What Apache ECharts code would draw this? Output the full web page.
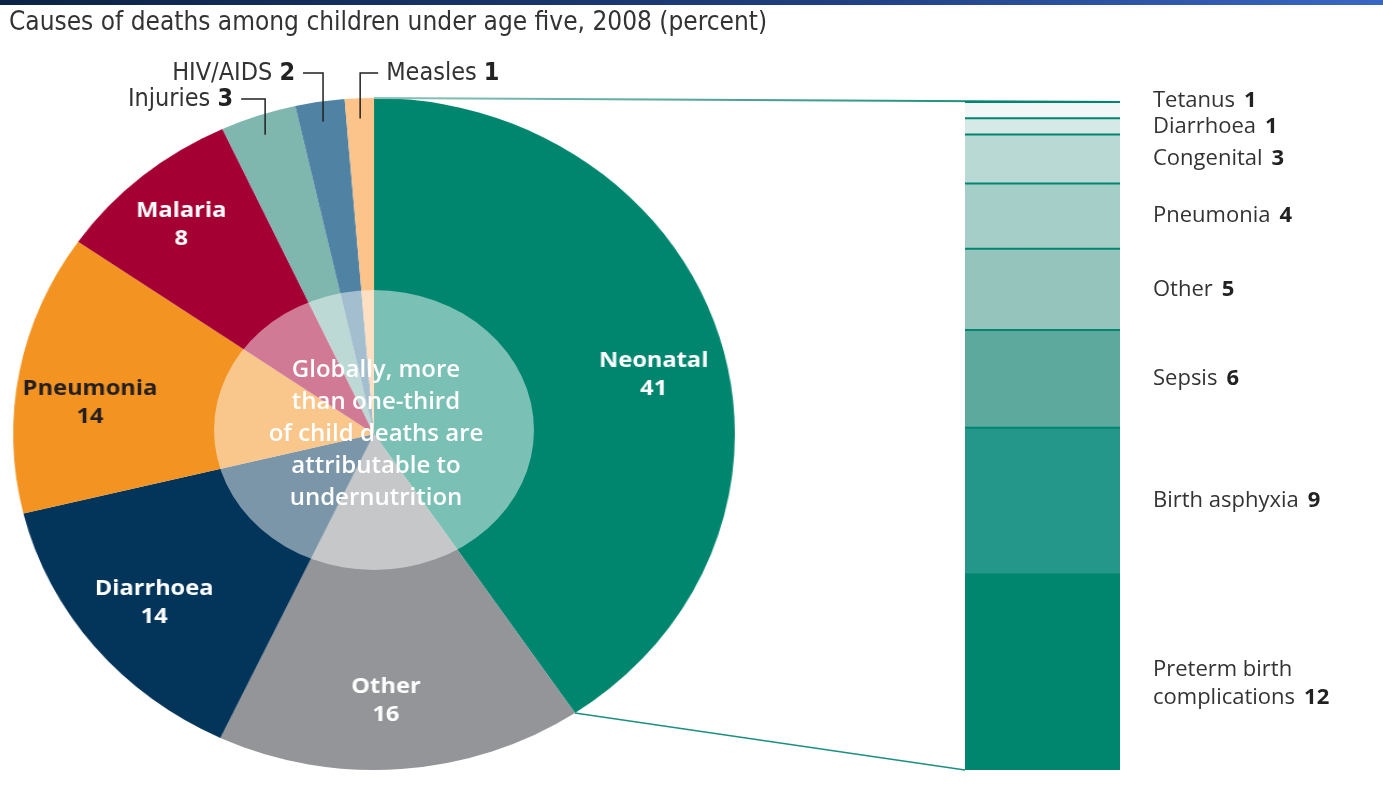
<!DOCTYPE html>
<html>
<head>
<meta charset="utf-8">
<script src="https://cdn.jsdelivr.net/npm/echarts@6/dist/echarts.min.js"></script>
<style>
  html, body { margin: 0; padding: 0; background: #fff; }
  #pie, #main { position: absolute; left: 0; top: 0; width: 1383px; height: 785px; }
  /* the source pie is a little wider than it is tall */
  #pie { transform-origin: 374px 434px; transform: scaleX(1.074); }
</style>
</head>
<body>
<div id="pie"></div>
<div id="main"></div>
<script>
// causes of death, clockwise from 12 o'clock (slice sizes, labels are rounded)
var pieNames = ['Neonatal', 'Other', 'Diarrhoea', 'Pneumonia', 'Malaria', 'Injuries', 'HIV/AIDS', 'Measles'];
var pieValues = [40.6, 16.4, 14.2, 13.5, 8.4, 3.4, 2.2, 1.3];
var pieColors = ['#00866f', '#939598', '#03345a', '#f39322', '#a50034', '#7fb6ae', '#4f82a3', '#fcc48a'];
var pieLabelColors = ['#fff', '#fff', '#fff', '#231f20', '#fff'];
var pieLabelOffsets = [[5, 18], [-9, 0], [2, 0], [-2, 18], [-8, -5]];

// neonatal breakdown, bottom to top
var neoNames = ['Preterm birth\ncomplications', 'Birth asphyxia', 'Sepsis', 'Other', 'Pneumonia', 'Congenital', 'Diarrhoea', 'Tetanus'];
var neoValues = [12, 9, 6, 5, 4, 3, 1, 1];
var neoColors = ['#00866f', '#24978a', '#5da99e', '#95c4bc', '#a6cec8', '#b9dad4', '#d5e9e6', '#f0f7f6'];

var CX = 374, CY = 434, RY = 336, SX = 1.074;
var RX = RY * SX;
var condFont = '"Liberation Sans Narrow", "DejaVu Sans Condensed", sans-serif';
var geoFont = '"Open Sans", "Noto Sans", sans-serif';

var pieChart = echarts.init(document.getElementById('pie'));
var pieData = pieNames.map(function (n, i) {
    return { name: n, value: pieValues[i], itemStyle: { color: pieColors[i] } };
});
var ringData = pieNames.map(function (n, i) {
    return {
        name: n, value: pieValues[i],
        label: { show: i < 5, color: pieLabelColors[i] || '#fff', offset: pieLabelOffsets[i] || [0, 0] }
    };
});
pieChart.setOption({
    animation: false,
    series: [
        {
            type: 'pie', center: [CX, CY], radius: [0, RY],
            startAngle: 90, clockwise: true, avoidLabelOverlap: false,
            label: { show: false }, labelLine: { show: false },
            itemStyle: { borderWidth: 0 },
            data: pieData
        },
        {
            // invisible ring, only carries the inside labels
            type: 'pie', center: [CX, CY], radius: [192, RY], silent: true,
            startAngle: 90, clockwise: true, avoidLabelOverlap: false,
            itemStyle: { color: 'rgba(0,0,0,0)' },
            labelLine: { show: false },
            label: {
                position: 'inside',
                formatter: function (p) { return p.name + '\n' + Math.round(p.value); },
                fontFamily: geoFont, fontWeight: 'bold', fontSize: 22, lineHeight: 28
            },
            data: ringData
        }
    ]
});

var chart = echarts.init(document.getElementById('main'));
var barSeries = neoNames.map(function (n, i) {
    var off = [0, 0];
    if (i === neoNames.length - 1) off = [0, -9];
    if (i === 0) off = [0, 11];
    return {
        type: 'bar', stack: 'neo', name: n, barWidth: '100%',
        data: [neoValues[i]],
        itemStyle: { color: neoColors[i] },
        label: {
            show: true, position: 'right', distance: 33, offset: off,
            formatter: function () { return '{n|' + n + '}{b|' + neoValues[i] + '}'; },
            rich: {
                n: { fontFamily: geoFont, fontSize: 22, color: '#333', lineHeight: 28 },
                b: { fontFamily: geoFont, fontSize: 22, fontWeight: 'bold', color: '#222', lineHeight: 28, padding: [0, 0, 0, 9] }
            }
        }
    };
});
chart.setOption({
    animation: false,
    grid: { left: 965, right: 263, top: 102, bottom: 15 },
    xAxis: { type: 'category', data: ['Neonatal'], show: false },
    yAxis: { type: 'value', min: 0, max: 41, show: false },
    series: barSeries
});

// positions derived from the pie values
var total = pieValues.reduce(function (a, b) { return a + b; }, 0);
function piePoint(frac, r) {
    var a = frac * 2 * Math.PI;
    return [CX + RX * r * Math.sin(a), CY - RY * r * Math.cos(a)];
}
var xL = chart.convertToPixel({ xAxisIndex: 0 }, 'Neonatal') - 77.5;
var xR = xL + 155;
var yTop = chart.convertToPixel({ yAxisIndex: 0 }, 41);
var yBot = chart.convertToPixel({ yAxisIndex: 0 }, 0);

var graphics = [];
graphics.push({
    type: 'rect', shape: { x: 0, y: 0, width: 1383, height: 5 },
    style: { fill: new echarts.graphic.LinearGradient(0, 0, 1, 0, [
        { offset: 0, color: '#0d2344' }, { offset: 0.6, color: '#1f3f80' }, { offset: 1, color: '#3a66c4' }]) }
});
graphics.push({
    type: 'text', x: 9, y: 23,
    style: { text: 'Causes of deaths among children under age five, 2008 (percent)',
        font: '26px ' + condFont, fill: '#333', verticalAlign: 'middle' }
});

// separators inside the stacked bar
var cum = 0;
neoValues.forEach(function (v) {
    cum += v;
    var y = chart.convertToPixel({ yAxisIndex: 0 }, cum);
    graphics.push({ type: 'line', z: 10, shape: { x1: xL, y1: y, x2: xR, y2: y },
        style: { stroke: '#00866f', lineWidth: 2 } });
});

// connectors from the neonatal slice to the bar
var topPt = piePoint(0, 1);
var endPt = piePoint(pieValues[0] / total, 1);
graphics.push({ type: 'line', z: 9, shape: { x1: topPt[0], y1: topPt[1], x2: xR, y2: yTop },
    style: { stroke: new echarts.graphic.LinearGradient(0, 0, 1, 0, [
        { offset: 0, color: '#8cc3ba' }, { offset: 0.4, color: '#5aa89c' }, { offset: 1, color: '#00866f' }]), lineWidth: 2 } });
graphics.push({ type: 'line', z: 9, shape: { x1: endPt[0], y1: endPt[1], x2: xL, y2: yBot },
    style: { stroke: '#1b9080', lineWidth: 1.5 } });

// callouts for the small slices
var callouts = { 'Injuries': { y: 99, len: 24, dir: -1 }, 'HIV/AIDS': { y: 73, len: 20, dir: -1 }, 'Measles': { y: 73, len: 18, dir: 1 } };
var acc = 0;
pieNames.forEach(function (n, i) {
    var mid = (acc + pieValues[i] / 2) / total;
    acc += pieValues[i];
    var c = callouts[n];
    if (!c) return;
    var p = piePoint(mid, 0.94);
    var ex = p[0] + c.dir * c.len;
    graphics.push({ type: 'polyline', z: 10, shape: { points: [[p[0], p[1]], [p[0], c.y], [ex, c.y]] },
        style: { stroke: '#231f20', lineWidth: 1.5, fill: null } });
    graphics.push({
        type: 'text', z: 10, x: ex + c.dir * 8, y: c.y,
        style: {
            text: '{n|' + n + ' }{b|' + Math.round(pieValues[i]) + '}',
            align: c.dir < 0 ? 'right' : 'left', verticalAlign: 'middle',
            rich: {
                n: { font: '25px ' + condFont, fill: '#333' },
                b: { font: 'bold 25px ' + condFont, fill: '#222' }
            }
        }
    });
});

// semi transparent ellipse with the note
graphics.push({ type: 'circle', x: CX, y: 430, scaleX: 160 / 140, z: 5,
    shape: { cx: 0, cy: 0, r: 140 }, style: { fill: 'rgba(255,255,255,0.48)' } });
graphics.push({
    type: 'text', x: CX + 2, y: 434, z: 6,
    style: {
        text: 'Globally, more\nthan one-third\nof child deaths are\nattributable to\nundernutrition',
        font: '600 24px ' + geoFont, lineHeight: 32, fill: '#fff', align: 'center', verticalAlign: 'middle',
        shadowColor: 'rgba(0,0,0,0.45)', shadowBlur: 3, shadowOffsetX: 1, shadowOffsetY: 2
    }
});

chart.setOption({ graphic: graphics });

window.onresize = function () {
    pieChart.resize();
    chart.resize();
};
</script>
</body>
</html>
